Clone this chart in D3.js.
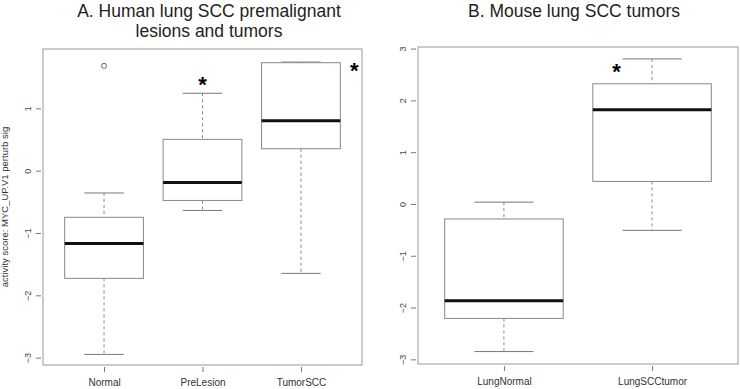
<!DOCTYPE html>
<html>
<head>
<meta charset="utf-8">
<script src="https://cdn.jsdelivr.net/npm/d3@7"></script>
<style>
  body { margin: 0; background: #fff; }
  svg { display: block; font-family: "Liberation Sans", Arial, sans-serif; }
</style>
</head>
<body>
<svg id="chart" width="740" height="389"></svg>
<script>
// panel A: human lung SCC
const humanGroups   = ['Normal', 'PreLesion', 'TumorSCC'];
const humanLow      = [-2.94, -0.63, -1.64];
const humanQ1       = [-1.72, -0.47, 0.36];
const humanMedian   = [-1.16, -0.18, 0.81];
const humanQ3       = [-0.74, 0.51, 1.74];
const humanHigh     = [-0.35, 1.25, 1.75];
const humanOutliers = [[1.69], [], []];
const humanStars    = [false, true, true];
const humanTicks    = [-3, -2, -1, 0, 1];

// panel B: mouse lung SCC
const mouseGroups   = ['LungNormal', 'LungSCCtumor'];
const mouseLow      = [-2.84, -0.50];
const mouseQ1       = [-2.20, 0.445];
const mouseMedian   = [-1.86, 1.83];
const mouseQ3       = [-0.28, 2.33];
const mouseHigh     = [0.045, 2.81];
const mouseOutliers = [[], []];
const mouseStars    = [false, true];
const mouseTicks    = [-3, -2, -1, 0, 1, 2, 3];

const svg = d3.select('#chart');

function drawPanel(opt) {
  const { left, right, top, bottom, groups, low, q1, med, q3, high, outliers, ticks, yDomain, stars, starPos } = opt;
  const n = groups.length;

  // R-style index axis: 0.5..n+0.5 extended by 4%
  const pad = n * 0.04;
  const x = d3.scaleLinear().domain([0.5 - pad, n + 0.5 + pad]).range([left, right]);
  const y = d3.scaleLinear().domain(yDomain).range([bottom, top]);
  const unit = x(2) - x(1);
  const bw = unit * 0.8;

  const g = svg.append('g');

  // frame
  g.append('rect')
    .attr('x', left).attr('y', top)
    .attr('width', right - left).attr('height', bottom - top)
    .attr('fill', 'none').attr('stroke', '#999').attr('stroke-width', 1);

  // y axis, labels turned like R's las=0
  const yAxis = g.append('g')
    .attr('transform', `translate(${left - 2},0)`)
    .call(d3.axisLeft(y).tickValues(ticks).tickSize(5).tickFormat(d3.format('d')));
  yAxis.select('.domain').remove();
  yAxis.selectAll('line').attr('stroke', '#777');
  yAxis.selectAll('.tick').attr('transform', 'translate(0,0)');
  yAxis.selectAll('.tick line').attr('y1', d => y(d)).attr('y2', d => y(d));
  yAxis.selectAll('text')
    .attr('fill', '#444')
    .style('font-size', '9px')
    .attr('text-anchor', 'middle')
    .attr('transform', d => `translate(${-13},${y(d)}) rotate(-90)`)
    .attr('x', 0).attr('y', 0).attr('dy', '0.32em');

  // x axis
  const idx = d3.range(1, n + 1);
  const xAxis = g.append('g')
    .attr('transform', `translate(0,${bottom + 2})`)
    .call(d3.axisBottom(x).tickValues(idx).tickSize(5).tickFormat(i => groups[i - 1]));
  xAxis.select('.domain').remove();
  xAxis.selectAll('line').attr('stroke', '#777');
  xAxis.selectAll('text').attr('fill', '#333').style('font-size', '10px').attr('dy', '1.1em');

  const boxes = g.selectAll('.box').data(idx).join('g').attr('class', 'box');

  // whiskers
  boxes.append('line')
    .attr('x1', i => x(i)).attr('x2', i => x(i))
    .attr('y1', i => y(high[i - 1])).attr('y2', i => y(q3[i - 1]))
    .attr('stroke', '#888').attr('stroke-dasharray', '3,3');
  boxes.append('line')
    .attr('x1', i => x(i)).attr('x2', i => x(i))
    .attr('y1', i => y(q1[i - 1])).attr('y2', i => y(low[i - 1]))
    .attr('stroke', '#888').attr('stroke-dasharray', '3,3');
  // staples
  [high, low].forEach(arr => {
    boxes.append('line')
      .attr('x1', i => x(i) - bw / 4).attr('x2', i => x(i) + bw / 4)
      .attr('y1', i => y(arr[i - 1])).attr('y2', i => y(arr[i - 1]))
      .attr('stroke', '#777');
  });
  // box
  boxes.append('rect')
    .attr('x', i => x(i) - bw / 2).attr('width', bw)
    .attr('y', i => y(q3[i - 1])).attr('height', i => y(q1[i - 1]) - y(q3[i - 1]))
    .attr('fill', '#fff').attr('stroke', '#888');
  // median
  boxes.append('line')
    .attr('x1', i => x(i) - bw / 2).attr('x2', i => x(i) + bw / 2)
    .attr('y1', i => y(med[i - 1])).attr('y2', i => y(med[i - 1]))
    .attr('stroke', '#111').attr('stroke-width', 3);
  // outliers
  boxes.selectAll('circle').data(i => outliers[i - 1].map(v => [i, v])).join('circle')
    .attr('cx', d => x(d[0])).attr('cy', d => y(d[1])).attr('r', 2.5)
    .attr('fill', 'none').attr('stroke', '#666');

  // significance stars
  idx.filter(i => stars[i - 1]).forEach(i => {
    const p = starPos(i, x, y, bw);
    g.append('text')
      .attr('x', p[0]).attr('y', p[1])
      .attr('text-anchor', 'middle')
      .style('font-size', '22px').style('font-weight', 'bold')
      .text('*');
  });
  return { x, y };
}

// panel A
drawPanel({
  left: 43, right: 362, top: 49, bottom: 365,
  groups: humanGroups, low: humanLow, q1: humanQ1, med: humanMedian, q3: humanQ3,
  high: humanHigh, outliers: humanOutliers, ticks: humanTicks,
  yDomain: [-3.11, 1.96], stars: humanStars,
  starPos: (i, x, y, bw) => i === 2 ? [x(i), y(humanHigh[1]) - 1] : [x(i) + bw / 2 + 14, y(humanHigh[2]) + 16]
});

// panel B
drawPanel({
  left: 418, right: 738, top: 47, bottom: 364,
  groups: mouseGroups, low: mouseLow, q1: mouseQ1, med: mouseMedian, q3: mouseQ3,
  high: mouseHigh, outliers: mouseOutliers, ticks: mouseTicks,
  yDomain: [-3.08, 3.04], stars: mouseStars,
  starPos: (i, x, y, bw) => [x(i) - bw / 4 - 6, y(mouseHigh[1]) + 20]
});

// y axis title (panel A)
svg.append('text')
  .attr('transform', 'translate(8,207) rotate(-90)')
  .attr('text-anchor', 'middle')
  .attr('fill', '#333')
  .style('font-size', '9.5px')
  .text('activity score: MYC_UP.V1 perturb sig');

// titles
const titles = [
  { text: 'A. Human lung SCC premalignant', x: 209, y: 16.5 },
  { text: 'lesions and tumors', x: 209, y: 36.5 },
  { text: 'B. Mouse lung SCC tumors', x: 574, y: 16.5 }
];
svg.selectAll('.title').data(titles).join('text')
  .attr('class', 'title')
  .attr('x', d => d.x).attr('y', d => d.y)
  .attr('text-anchor', 'middle')
  .attr('fill', '#222')
  .style('font-size', '17.5px')
  .text(d => d.text);
</script>
</body>
</html>
